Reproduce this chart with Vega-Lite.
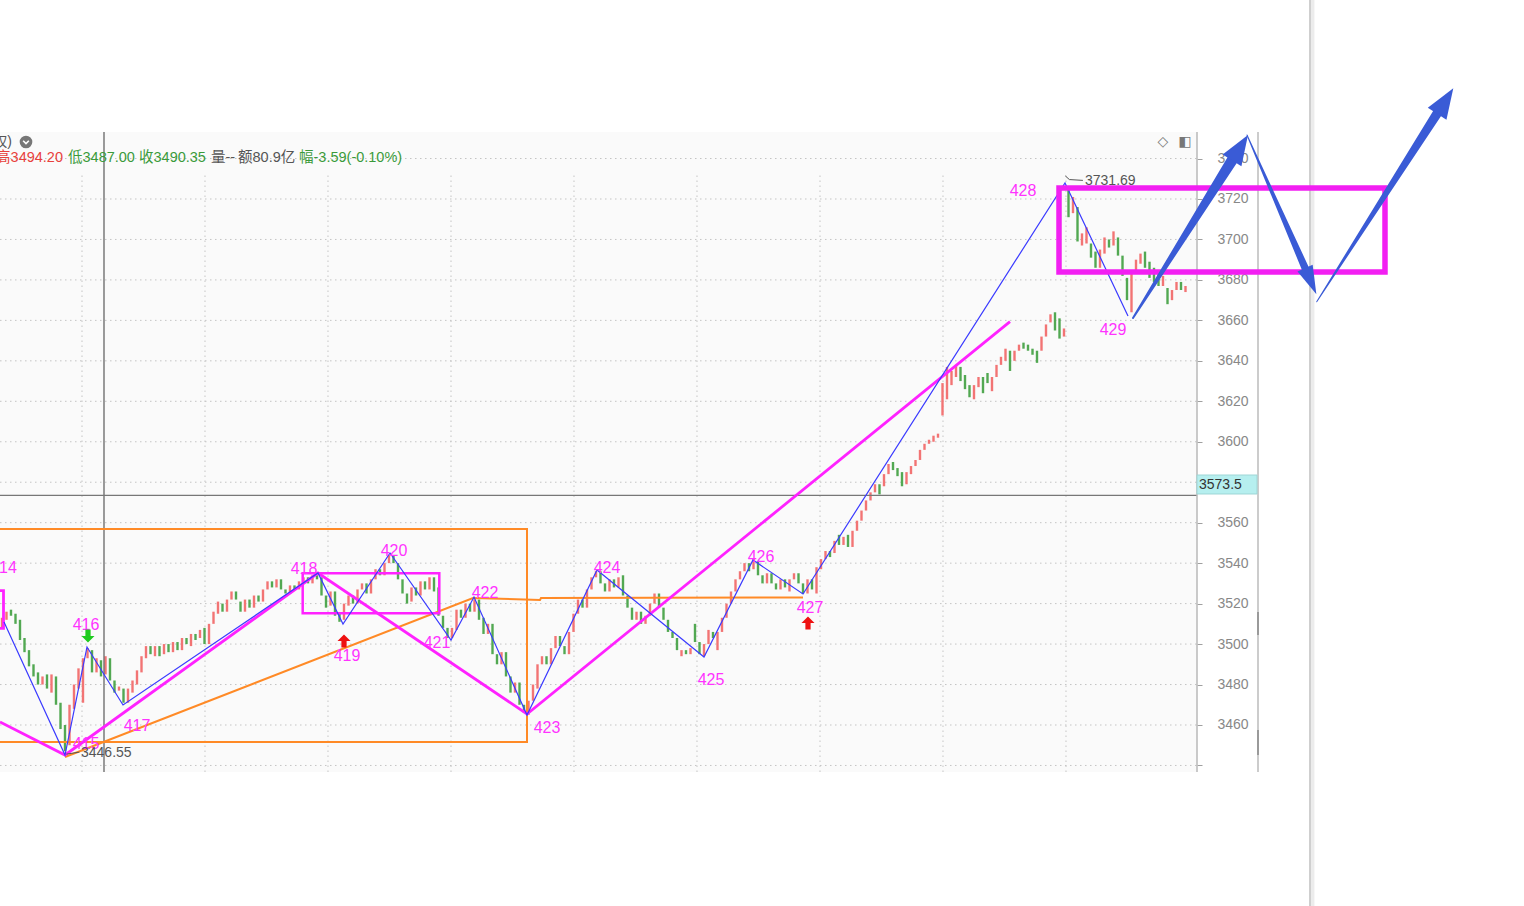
{
"$schema":"https://vega.github.io/schema/vega-lite/v6.json",
"width":1197,"height":906,"autosize":{"type":"none"},"padding":{"left":0,"top":0,"right":327,"bottom":0},"background":"#ffffff",
"config":{"view":{"stroke":null}},
"resolve":{"scale":{"size":"independent"}},
"datasets":{
"hgrid":[{"y":3440},{"y":3460},{"y":3480},{"y":3500},{"y":3520},{"y":3540},{"y":3560},{"y":3580},{"y":3600},{"y":3620},{"y":3640},{"y":3660},{"y":3680},{"y":3700},{"y":3720},{"y":3740}],
"vgrid":[{"x":17.778},{"x":45.111},{"x":72.444},{"x":99.778},{"x":127.111},{"x":154.444},{"x":181.778},{"x":209.111},{"x":236.444}],
"candles":[
{"i":0,"o":3508,"c":3513},{"i":1,"o":3512,"c":3516},{"i":2,"o":3517,"c":3514},{"i":3,"o":3515,"c":3510},{"i":4,"o":3512,"c":3502},{"i":5,"o":3503,"c":3496},{"i":6,"o":3497,"c":3489},{"i":7,"o":3490,"c":3484},{"i":8,"o":3486,"c":3480},{"i":9,"o":3480,"c":3484},
{"i":10,"o":3485,"c":3478},{"i":11,"o":3476,"c":3485},{"i":12,"o":3484,"c":3470},{"i":13,"o":3471,"c":3458},{"i":14,"o":3460,"c":3447},{"i":15,"o":3450,"c":3470},{"i":16,"o":3468,"c":3480},{"i":17,"o":3478,"c":3488},{"i":18,"o":3471,"c":3493},{"i":19,"o":3493,"c":3498},
{"i":20,"o":3497,"c":3486},{"i":21,"o":3486,"c":3493},{"i":22,"o":3492,"c":3484},{"i":23,"o":3485,"c":3494},{"i":24,"o":3493,"c":3482},{"i":25,"o":3482,"c":3476},{"i":26,"o":3477,"c":3479},{"i":27,"o":3478,"c":3471},{"i":28,"o":3471,"c":3478},{"i":29,"o":3476,"c":3482},
{"i":30,"o":3480,"c":3487},{"i":31,"o":3486,"c":3494},{"i":32,"o":3493,"c":3499},{"i":33,"o":3499,"c":3495},{"i":34,"o":3494,"c":3499},{"i":35,"o":3499,"c":3494},{"i":36,"o":3495,"c":3500},{"i":37,"o":3500,"c":3496},{"i":38,"o":3496,"c":3501},{"i":39,"o":3501,"c":3497},
{"i":40,"o":3497,"c":3503},{"i":41,"o":3503,"c":3500},{"i":42,"o":3499,"c":3505},{"i":43,"o":3505,"c":3502},{"i":44,"o":3503,"c":3507},{"i":45,"o":3508,"c":3500},{"i":46,"o":3500,"c":3510},{"i":47,"o":3510,"c":3516},{"i":48,"o":3515,"c":3521},{"i":49,"o":3520,"c":3516},
{"i":50,"o":3516,"c":3522},{"i":51,"o":3522,"c":3526},{"i":52,"o":3526,"c":3522},{"i":53,"o":3521,"c":3516},{"i":54,"o":3516,"c":3522},{"i":55,"o":3522,"c":3518},{"i":56,"o":3518,"c":3524},{"i":57,"o":3524,"c":3521},{"i":58,"o":3521,"c":3527},{"i":59,"o":3527,"c":3531},
{"i":60,"o":3531,"c":3528},{"i":61,"o":3528,"c":3532},{"i":62,"o":3532,"c":3527},{"i":63,"o":3527,"c":3525},{"i":64,"o":3525,"c":3529},{"i":65,"o":3529,"c":3527},{"i":66,"o":3527,"c":3531},{"i":67,"o":3530,"c":3533},{"i":68,"o":3533,"c":3530},{"i":69,"o":3530,"c":3534},
{"i":70,"o":3534,"c":3532},{"i":71,"o":3533,"c":3524},{"i":72,"o":3524,"c":3518},{"i":73,"o":3519,"c":3526},{"i":74,"o":3526,"c":3514},{"i":75,"o":3515,"c":3511},{"i":76,"o":3512,"c":3520},{"i":77,"o":3519,"c":3524},{"i":78,"o":3524,"c":3520},{"i":79,"o":3520,"c":3527},
{"i":80,"o":3527,"c":3530},{"i":81,"o":3530,"c":3525},{"i":82,"o":3525,"c":3532},{"i":83,"o":3532,"c":3537},{"i":84,"o":3537,"c":3534},{"i":85,"o":3534,"c":3540},{"i":86,"o":3540,"c":3544},{"i":87,"o":3544,"c":3540},{"i":88,"o":3540,"c":3532},{"i":89,"o":3532,"c":3525},
{"i":90,"o":3525,"c":3520},{"i":91,"o":3521,"c":3528},{"i":92,"o":3528,"c":3524},{"i":93,"o":3524,"c":3531},{"i":94,"o":3531,"c":3527},{"i":95,"o":3527,"c":3533},{"i":96,"o":3533,"c":3526},{"i":97,"o":3528,"c":3514},{"i":98,"o":3514,"c":3508},{"i":99,"o":3508,"c":3503},
{"i":100,"o":3503,"c":3508},{"i":101,"o":3507,"c":3517},{"i":102,"o":3517,"c":3513},{"i":103,"o":3513,"c":3520},{"i":104,"o":3520,"c":3516},{"i":105,"o":3516,"c":3522},{"i":106,"o":3522,"c":3512},{"i":107,"o":3513,"c":3505},{"i":108,"o":3505,"c":3510},{"i":109,"o":3510,"c":3495},
{"i":110,"o":3495,"c":3490},{"i":111,"o":3490,"c":3496},{"i":112,"o":3496,"c":3484},{"i":113,"o":3484,"c":3476},{"i":114,"o":3476,"c":3481},{"i":115,"o":3481,"c":3470},{"i":116,"o":3470,"c":3466},{"i":117,"o":3465,"c":3472},{"i":118,"o":3472,"c":3480},{"i":119,"o":3478,"c":3490},
{"i":120,"o":3490,"c":3494},{"i":121,"o":3494,"c":3490},{"i":122,"o":3490,"c":3498},{"i":123,"o":3498,"c":3504},{"i":124,"o":3504,"c":3499},{"i":125,"o":3499,"c":3495},{"i":126,"o":3495,"c":3506},{"i":127,"o":3506,"c":3515},{"i":128,"o":3515,"c":3522},{"i":129,"o":3522,"c":3518},
{"i":130,"o":3518,"c":3527},{"i":131,"o":3527,"c":3533},{"i":132,"o":3533,"c":3536},{"i":133,"o":3536,"c":3530},{"i":134,"o":3530,"c":3526},{"i":135,"o":3526,"c":3532},{"i":136,"o":3532,"c":3528},{"i":137,"o":3528,"c":3533},{"i":138,"o":3534,"c":3524},{"i":139,"o":3524,"c":3518},
{"i":140,"o":3518,"c":3512},{"i":141,"o":3512,"c":3516},{"i":142,"o":3516,"c":3510},{"i":143,"o":3510,"c":3514},{"i":144,"o":3514,"c":3520},{"i":145,"o":3520,"c":3525},{"i":146,"o":3525,"c":3518},{"i":147,"o":3518,"c":3512},{"i":148,"o":3512,"c":3506},{"i":149,"o":3506,"c":3503},
{"i":150,"o":3503,"c":3497},{"i":151,"o":3494,"c":3497},{"i":152,"o":3497,"c":3495},{"i":153,"o":3495,"c":3498},{"i":154,"o":3510,"c":3501},{"i":155,"o":3501,"c":3495},{"i":156,"o":3494,"c":3500},{"i":157,"o":3500,"c":3507},{"i":158,"o":3506,"c":3503},{"i":159,"o":3497,"c":3506},
{"i":160,"o":3506,"c":3513},{"i":161,"o":3513,"c":3520},{"i":162,"o":3520,"c":3526},{"i":163,"o":3526,"c":3532},{"i":164,"o":3532,"c":3536},{"i":165,"o":3536,"c":3540},{"i":166,"o":3540,"c":3536},{"i":167,"o":3537,"c":3542},{"i":168,"o":3541,"c":3534},{"i":169,"o":3534,"c":3530},
{"i":170,"o":3530,"c":3535},{"i":171,"o":3535,"c":3530},{"i":172,"o":3530,"c":3527},{"i":173,"o":3527,"c":3532},{"i":174,"o":3532,"c":3528},{"i":175,"o":3526,"c":3532},{"i":176,"o":3532,"c":3535},{"i":177,"o":3535,"c":3530},{"i":178,"o":3530,"c":3525},{"i":179,"o":3525,"c":3532},
{"i":180,"o":3532,"c":3527},{"i":181,"o":3525,"c":3538},{"i":182,"o":3537,"c":3542},{"i":183,"o":3542,"c":3546},{"i":184,"o":3546,"c":3543},{"i":185,"o":3545,"c":3551},{"i":186,"o":3554,"c":3549},{"i":187,"o":3549,"c":3553},{"i":188,"o":3554,"c":3548},{"i":189,"o":3548,"c":3556},
{"i":190,"o":3556,"c":3561},{"i":191,"o":3561,"c":3566},{"i":192,"o":3566,"c":3571},{"i":193,"o":3571,"c":3575},{"i":194,"o":3575,"c":3579},{"i":195,"o":3579,"c":3574},{"i":196,"o":3578,"c":3584},{"i":197,"o":3584,"c":3589},{"i":198,"o":3590,"c":3586},{"i":199,"o":3587,"c":3583},
{"i":200,"o":3585,"c":3578},{"i":201,"o":3579,"c":3585},{"i":202,"o":3584,"c":3588},{"i":203,"o":3588,"c":3591},{"i":204,"o":3591,"c":3596},{"i":205,"o":3596,"c":3599},{"i":206,"o":3599,"c":3601},{"i":207,"o":3600,"c":3603},{"i":208,"o":3602,"c":3604},{"i":209,"o":3613,"c":3629},
{"i":210,"o":3621,"c":3637},{"i":211,"o":3628,"c":3635},{"i":212,"o":3632,"c":3638},{"i":213,"o":3637,"c":3630},{"i":214,"o":3633,"c":3626},{"i":215,"o":3628,"c":3622},{"i":216,"o":3621,"c":3628},{"i":217,"o":3627,"c":3632},{"i":218,"o":3632,"c":3624},{"i":219,"o":3634,"c":3629},
{"i":220,"o":3625,"c":3632},{"i":221,"o":3632,"c":3638},{"i":222,"o":3638,"c":3642},{"i":223,"o":3640,"c":3646},{"i":224,"o":3645,"c":3635},{"i":225,"o":3640,"c":3645},{"i":226,"o":3645,"c":3648},{"i":227,"o":3649,"c":3646},{"i":228,"o":3648,"c":3645},{"i":229,"o":3646,"c":3643},
{"i":230,"o":3645,"c":3639},{"i":231,"o":3645,"c":3652},{"i":232,"o":3652,"c":3658},{"i":233,"o":3659,"c":3663},{"i":234,"o":3664,"c":3655},{"i":235,"o":3661,"c":3651},{"i":236,"o":3652,"c":3656},{"i":237,"o":3725,"c":3711},{"i":238,"o":3713,"c":3721},{"i":239,"o":3716,"c":3699},
{"i":240,"o":3697,"c":3703},{"i":241,"o":3698,"c":3706},{"i":242,"o":3698,"c":3691},{"i":243,"o":3694,"c":3686},{"i":244,"o":3686,"c":3695},{"i":245,"o":3693,"c":3701},{"i":246,"o":3700,"c":3696},{"i":247,"o":3697,"c":3704},{"i":248,"o":3701,"c":3692},{"i":249,"o":3692,"c":3682},
{"i":250,"o":3681,"c":3670},{"i":251,"o":3664,"c":3683},{"i":252,"o":3683,"c":3690},{"i":253,"o":3688,"c":3693},{"i":254,"o":3694,"c":3686},{"i":255,"o":3689,"c":3681},{"i":256,"o":3686,"c":3679},{"i":257,"o":3683,"c":3677},{"i":258,"o":3677,"c":3682},{"i":259,"o":3676,"c":3668},
{"i":260,"o":3670,"c":3675},{"i":261,"o":3675,"c":3679},{"i":262,"o":3679,"c":3675},{"i":263,"o":3674,"c":3677}
],
"zig":[{"n":0,"x":0.444,"y":3510.9},{"n":1,"x":14,"y":3445.17},{"n":2,"x":18.889,"y":3498.55},{"n":3,"x":26.889,"y":3469.89},{"n":4,"x":70.222,"y":3535.13},{"n":5,"x":75.778,"y":3509.92},{"n":6,"x":86.222,"y":3545.02},{"n":7,"x":99.778,"y":3502.01},{"n":8,"x":104.889,"y":3523.27},{"n":9,"x":116.667,"y":3464.94},{"n":10,"x":132.222,"y":3536.62},{"n":11,"x":156,"y":3493.61},{"n":12,"x":166.889,"y":3541.56},{"n":13,"x":178,"y":3524.75},{"n":14,"x":236.222,"y":3727.91},{"n":15,"x":250.222,"y":3662.17}],
"mag":[{"g":"a","n":0,"x":-0.4444,"y":3461.48},{"g":"a","n":1,"x":14,"y":3445.17},{"g":"a","n":2,"x":70.222,"y":3535.13},{"g":"a","n":3,"x":116.667,"y":3465.44},{"g":"a","n":4,"x":224,"y":3659.35},{"g":"b","n":0,"x":-0.4444,"y":3526.38},{"g":"b","n":1,"x":0.333,"y":3526.38},{"g":"b","n":2,"x":0.333,"y":3507.8},{"g":"b","n":3,"x":-0.4444,"y":3507.8}],
"magbox":[{"x":66.822,"x2":97.178,"y":3534.98,"y2":3515.21}],
"bigbox":[{"x":234.889,"x2":307.333,"y":3725.44,"y2":3683.91}],
"orange":[{"g":"a","n":0,"x":-0.4444,"y":3556.88},{"g":"a","n":1,"x":116.667,"y":3556.88},{"g":"a","n":2,"x":116.667,"y":3451.6},{"g":"a","n":3,"x":-0.4444,"y":3451.6},{"g":"b","n":0,"x":14,"y":3444.18},{"g":"b","n":1,"x":104.667,"y":3522.78},{"g":"b","n":2,"x":119.556,"y":3521.79},{"g":"b","n":3,"x":119.778,"y":3522.78},{"g":"b","n":4,"x":178,"y":3523.02}],
"labels":[{"x":0.333,"y":3537.6,"t":"414"},{"x":18.667,"y":3450.61,"t":"415"},{"x":18.667,"y":3509.43,"t":"416"},{"x":30,"y":3459.51,"t":"417"},{"x":67.111,"y":3537.11,"t":"418"},{"x":76.667,"y":3494.11,"t":"419"},{"x":87.111,"y":3546.01,"t":"420"},{"x":96.667,"y":3500.53,"t":"421"},{"x":107.333,"y":3525.25,"t":"422"},{"x":121.111,"y":3458.52,"t":"423"},{"x":134.444,"y":3537.6,"t":"424"},{"x":157.556,"y":3482.24,"t":"425"},{"x":168.667,"y":3543.04,"t":"426"},{"x":179.556,"y":3517.83,"t":"427"},{"x":226.889,"y":3723.95,"t":"428"},{"x":246.889,"y":3655.24,"t":"429"}],
"up":[{"x":76,"y":3501.52},{"x":179.111,"y":3510.42}],
"down":[{"x":19.111,"y":3503.99}],
"notes":[{"x":17.556,"y":3446.16,"t":"3446.55"},{"x":240.667,"y":3728.9,"t":"3731.69"}],
"noteLines":[{"g":"a","n":0,"x":14.3,"y":3445.6},{"g":"a","n":1,"x":17.2,"y":3446.6},{"g":"b","n":0,"x":236.3,"y":3731.4},{"g":"b","n":1,"x":237.2,"y":3729.6},{"g":"b","n":2,"x":240.2,"y":3729.2}],
"hdr0":[{"x":2.222,"y":3748.18,"t":"权)"}],
"hdr1":[{"x":13.556,"y":3740.26,"t":"高3494.20","k":"rise"}],
"hdr2":[{"x":14.667,"y":3740.26,"t":"低3487.00","k":"fall"},{"x":30.444,"y":3740.26,"t":"收3490.35","k":"fall"},{"x":46.444,"y":3740.26,"t":"量--","k":"flat"},{"x":52.444,"y":3740.26,"t":"额80.9亿","k":"flat"},{"x":66,"y":3740.26,"t":"幅-3.59(-0.10%)","k":"fall"}],
"icons":[{"x":257.999,"y":3748.18,"t":"◇"},{"x":262.889,"y":3748.18,"t":"◧"}],
"dot":[{"x":5.333,"y":3748.18}],
"shaft1":[{"k":0,"x":251.333,"y":3661.18},{"k":1,"x":273.58,"y":3739.92}],
"shaft2":[{"k":0,"x":276.667,"y":3751.64},{"k":1,"x":289.87,"y":3684.4}],
"shaft3":[{"k":0,"x":292.16,"y":3669.2},{"k":1,"x":319.16,"y":3763.1}],
"head1":[{"x":275.02,"y":3745.0}],
"head2":[{"x":290.76,"y":3679.7}],
"head3":[{"x":320.62,"y":3768.1}],
"pricebox":[{"x":265.556,"x2":278.889,"y":3574.18,"y2":3583.57}],
"pricetxt":[{"x":266.0,"y":3578.63,"t":"3573.5"}]
},
"layer":[
{"data":{"name":"hgrid"},"mark":{"type":"rule","color":"#c4c4c4","strokeWidth":1,"strokeDash":[1.5,3.5]},"encoding":{"x":{"datum":-0.4444,"type":"quantitative","scale":{"domain":[-0.4444,265.5556],"nice":false,"zero":false},"axis":null},"x2":{"datum":265.556},"y":{"field":"y","type":"quantitative","scale":{"domain":[3370.53,3818.36],"nice":false,"zero":false},"axis":{"orient":"right","values":[3440,3450,3460,3470,3480,3490,3500,3510,3520,3530,3540,3550,3560,3570,3580,3590,3600,3610,3620,3630,3640,3650,3660,3670,3680,3690,3700,3710,3720,3730,3740,3750],"labelExpr":"(datum.value % 20 === 0 && datum.value >= 3460 && datum.value !== 3580) ? datum.label : ''","format":"d","domain":false,"grid":false,"ticks":true,"tickColor":"#a0a0a0","tickSize":5,"labelColor":"#888888","labelFont":"Liberation Sans","labelFontSize":14,"labelPadding":15,"labelOverlap":false,"labelBound":false,"labelFlush":false,"title":null}}}},
{"data":{"values":[{}]},"mark":{"type":"rect","fill":"#fafafa"},"encoding":{"x":{"datum":-0.4444,"type":"quantitative","scale":{"domain":[-0.4444,265.5556],"nice":false,"zero":false},"axis":null},"x2":{"datum":265.556},"y":{"datum":3436.77,"type":"quantitative","scale":{"domain":[3370.53,3818.36],"nice":false,"zero":false}},"y2":{"datum":3753.11}}},
{"data":{"name":"hgrid"},"mark":{"type":"rule","color":"#c4c4c4","strokeWidth":1,"strokeDash":[1.5,3.5]},"encoding":{"x":{"datum":-0.4444,"type":"quantitative","scale":{"domain":[-0.4444,265.5556],"nice":false,"zero":false},"axis":null},"x2":{"datum":265.556},"y":{"field":"y","type":"quantitative","scale":{"domain":[3370.53,3818.36],"nice":false,"zero":false}}}},
{"data":{"name":"vgrid"},"mark":{"type":"rule","color":"#c4c4c4","strokeWidth":1,"strokeDash":[1.5,3.5]},"encoding":{"x":{"field":"x","type":"quantitative","scale":{"domain":[-0.4444,265.5556],"nice":false,"zero":false},"axis":null},"y":{"datum":3436.77,"type":"quantitative","scale":{"domain":[3370.53,3818.36],"nice":false,"zero":false}},"y2":{"datum":3733.34}}},
{"data":{"name":"candles"},"mark":{"type":"rule","strokeWidth":2.4},"encoding":{"x":{"field":"i","type":"quantitative","scale":{"domain":[-0.4444,265.5556],"nice":false,"zero":false},"axis":null},"y":{"field":"o","type":"quantitative","scale":{"domain":[3370.53,3818.36],"nice":false,"zero":false}},"y2":{"field":"c"},"color":{"condition":{"test":"datum.c >= datum.o","value":"#f27474"},"value":"#52a852"}}},
{"data":{"values":[{}]},"mark":{"type":"rule","color":"#666666","strokeWidth":1.3},"encoding":{"x":{"datum":22.667,"type":"quantitative","scale":{"domain":[-0.4444,265.5556],"nice":false,"zero":false},"axis":null},"y":{"datum":3436.77,"type":"quantitative","scale":{"domain":[3370.53,3818.36],"nice":false,"zero":false}},"y2":{"datum":3753.11}}},
{"data":{"values":[{}]},"mark":{"type":"rule","color":"#777777","strokeWidth":1.3},"encoding":{"x":{"datum":-0.4444,"type":"quantitative","scale":{"domain":[-0.4444,265.5556],"nice":false,"zero":false},"axis":null},"x2":{"datum":265.556},"y":{"datum":3573.5,"type":"quantitative","scale":{"domain":[3370.53,3818.36],"nice":false,"zero":false}}}},
{"data":{"name":"orange"},"mark":{"type":"line","color":"#ff8a26","strokeWidth":2},"encoding":{"x":{"field":"x","type":"quantitative","scale":{"domain":[-0.4444,265.5556],"nice":false,"zero":false},"axis":null},"y":{"field":"y","type":"quantitative","scale":{"domain":[3370.53,3818.36],"nice":false,"zero":false}},"detail":{"field":"g"},"order":{"field":"n"}}},
{"data":{"name":"mag"},"mark":{"type":"line","color":"#ff22ff","strokeWidth":2.8},"encoding":{"x":{"field":"x","type":"quantitative","scale":{"domain":[-0.4444,265.5556],"nice":false,"zero":false},"axis":null},"y":{"field":"y","type":"quantitative","scale":{"domain":[3370.53,3818.36],"nice":false,"zero":false}},"detail":{"field":"g"},"order":{"field":"n"}}},
{"data":{"name":"magbox"},"mark":{"type":"rect","fill":null,"fillOpacity":0,"stroke":"#ff22ff","strokeWidth":2.5},"encoding":{"x":{"field":"x","type":"quantitative","scale":{"domain":[-0.4444,265.5556],"nice":false,"zero":false},"axis":null},"x2":{"field":"x2"},"y":{"field":"y","type":"quantitative","scale":{"domain":[3370.53,3818.36],"nice":false,"zero":false}},"y2":{"field":"y2"}}},
{"data":{"name":"zig"},"mark":{"type":"line","color":"#3a3aff","strokeWidth":1.2},"encoding":{"x":{"field":"x","type":"quantitative","scale":{"domain":[-0.4444,265.5556],"nice":false,"zero":false},"axis":null},"y":{"field":"y","type":"quantitative","scale":{"domain":[3370.53,3818.36],"nice":false,"zero":false}},"order":{"field":"n"}}},
{"data":{"name":"labels"},"mark":{"type":"text","color":"#ff33ff","font":"Liberation Sans","fontSize":16,"align":"center","baseline":"middle"},"encoding":{"x":{"field":"x","type":"quantitative","scale":{"domain":[-0.4444,265.5556],"nice":false,"zero":false},"axis":null},"y":{"field":"y","type":"quantitative","scale":{"domain":[3370.53,3818.36],"nice":false,"zero":false}},"text":{"field":"t","type":"nominal"}}},
{"data":{"name":"noteLines"},"mark":{"type":"line","color":"#555555","strokeWidth":1},"encoding":{"x":{"field":"x","type":"quantitative","scale":{"domain":[-0.4444,265.5556],"nice":false,"zero":false},"axis":null},"y":{"field":"y","type":"quantitative","scale":{"domain":[3370.53,3818.36],"nice":false,"zero":false}},"detail":{"field":"g"},"order":{"field":"n"}}},
{"data":{"name":"notes"},"mark":{"type":"text","color":"#555555","font":"Liberation Sans","fontSize":14,"align":"left","baseline":"middle"},"encoding":{"x":{"field":"x","type":"quantitative","scale":{"domain":[-0.4444,265.5556],"nice":false,"zero":false},"axis":null},"y":{"field":"y","type":"quantitative","scale":{"domain":[3370.53,3818.36],"nice":false,"zero":false}},"text":{"field":"t","type":"nominal"}}},
{"data":{"name":"down"},"mark":{"type":"point","shape":"M-0.4,-1L0.4,-1L0.4,0L1,0L0,1L-1,0L-0.4,0Z","filled":true,"opacity":1,"color":"#1ecb1e","size":170,"strokeWidth":0},"encoding":{"x":{"field":"x","type":"quantitative","scale":{"domain":[-0.4444,265.5556],"nice":false,"zero":false},"axis":null},"y":{"field":"y","type":"quantitative","scale":{"domain":[3370.53,3818.36],"nice":false,"zero":false}}}},
{"data":{"name":"up"},"mark":{"type":"point","shape":"M-0.4,1L0.4,1L0.4,0L1,0L0,-1L-1,0L-0.4,0Z","filled":true,"opacity":1,"color":"#ee1111","size":170,"strokeWidth":0},"encoding":{"x":{"field":"x","type":"quantitative","scale":{"domain":[-0.4444,265.5556],"nice":false,"zero":false},"axis":null},"y":{"field":"y","type":"quantitative","scale":{"domain":[3370.53,3818.36],"nice":false,"zero":false}}}},
{"data":{"values":[{}]},"mark":{"type":"rule","color":"#b8b8b8","strokeWidth":1.5},"encoding":{"x":{"datum":265.556,"type":"quantitative","scale":{"domain":[-0.4444,265.5556],"nice":false,"zero":false},"axis":null},"y":{"datum":3436.77,"type":"quantitative","scale":{"domain":[3370.53,3818.36],"nice":false,"zero":false}},"y2":{"datum":3753.11}}},
{"data":{"values":[{}]},"mark":{"type":"rule","color":"#cccccc","strokeWidth":2},"encoding":{"x":{"datum":279.111,"type":"quantitative","scale":{"domain":[-0.4444,265.5556],"nice":false,"zero":false},"axis":null},"y":{"datum":3436.77,"type":"quantitative","scale":{"domain":[3370.53,3818.36],"nice":false,"zero":false}},"y2":{"datum":3753.11}}},
{"data":{"values":[{"a":3504.49,"b":3515.86},{"a":3445.17,"b":3457.53}]},"mark":{"type":"rule","color":"#9a9a9a","strokeWidth":2},"encoding":{"x":{"datum":279.111,"type":"quantitative","scale":{"domain":[-0.4444,265.5556],"nice":false,"zero":false},"axis":null},"y":{"field":"a","type":"quantitative","scale":{"domain":[3370.53,3818.36],"nice":false,"zero":false}},"y2":{"field":"b"}}},
{"data":{"values":[{}]},"mark":{"type":"rule","color":"#ececec","strokeWidth":4},"encoding":{"x":{"datum":291.2,"type":"quantitative","scale":{"domain":[-0.4444,265.5556],"nice":false,"zero":false},"axis":null},"y":{"datum":3370.53,"type":"quantitative","scale":{"domain":[3370.53,3818.36],"nice":false,"zero":false}},"y2":{"datum":3818.36}}},
{"data":{"values":[{}]},"mark":{"type":"rule","color":"#cfcfcf","strokeWidth":2},"encoding":{"x":{"datum":290.667,"type":"quantitative","scale":{"domain":[-0.4444,265.5556],"nice":false,"zero":false},"axis":null},"y":{"datum":3370.53,"type":"quantitative","scale":{"domain":[3370.53,3818.36],"nice":false,"zero":false}},"y2":{"datum":3818.36}}},
{"data":{"name":"pricebox"},"mark":{"type":"rect","fill":"#b6efef","stroke":"#9fd6d6","strokeWidth":1},"encoding":{"x":{"field":"x","type":"quantitative","scale":{"domain":[-0.4444,265.5556],"nice":false,"zero":false},"axis":null},"x2":{"field":"x2"},"y":{"field":"y","type":"quantitative","scale":{"domain":[3370.53,3818.36],"nice":false,"zero":false}},"y2":{"field":"y2"}}},
{"data":{"name":"pricetxt"},"mark":{"type":"text","color":"#333333","font":"Liberation Sans","fontSize":14,"align":"left","baseline":"middle"},"encoding":{"x":{"field":"x","type":"quantitative","scale":{"domain":[-0.4444,265.5556],"nice":false,"zero":false},"axis":null},"y":{"field":"y","type":"quantitative","scale":{"domain":[3370.53,3818.36],"nice":false,"zero":false}},"text":{"field":"t","type":"nominal"}}},
{"data":{"name":"hdr0"},"mark":{"type":"text","color":"#555555","font":"Liberation Sans, Noto Sans CJK SC","fontSize":14,"align":"right","baseline":"middle"},"encoding":{"x":{"field":"x","type":"quantitative","scale":{"domain":[-0.4444,265.5556],"nice":false,"zero":false},"axis":null},"y":{"field":"y","type":"quantitative","scale":{"domain":[3370.53,3818.36],"nice":false,"zero":false}},"text":{"field":"t","type":"nominal"}}},
{"data":{"name":"dot"},"mark":{"type":"point","shape":"circle","filled":true,"opacity":1,"color":"#777777","size":160,"strokeWidth":0},"encoding":{"x":{"field":"x","type":"quantitative","scale":{"domain":[-0.4444,265.5556],"nice":false,"zero":false},"axis":null},"y":{"field":"y","type":"quantitative","scale":{"domain":[3370.53,3818.36],"nice":false,"zero":false}}}},
{"data":{"name":"dot"},"mark":{"type":"point","shape":"M-0.45,-0.2L0,0.25L0.45,-0.2","filled":false,"opacity":1,"color":"#ffffff","size":160,"strokeWidth":1.6},"encoding":{"x":{"field":"x","type":"quantitative","scale":{"domain":[-0.4444,265.5556],"nice":false,"zero":false},"axis":null},"y":{"field":"y","type":"quantitative","scale":{"domain":[3370.53,3818.36],"nice":false,"zero":false}}}},
{"data":{"name":"hdr1"},"mark":{"type":"text","font":"Liberation Sans, Noto Sans CJK SC","fontSize":14.5,"align":"right","baseline":"middle"},"encoding":{"x":{"field":"x","type":"quantitative","scale":{"domain":[-0.4444,265.5556],"nice":false,"zero":false},"axis":null},"y":{"field":"y","type":"quantitative","scale":{"domain":[3370.53,3818.36],"nice":false,"zero":false}},"text":{"field":"t","type":"nominal"},"color":{"field":"k","type":"nominal","scale":{"domain":["rise","fall","flat"],"range":["#e8413c","#3a9a3a","#555555"]},"legend":null}}},
{"data":{"name":"hdr2"},"mark":{"type":"text","font":"Liberation Sans, Noto Sans CJK SC","fontSize":14.5,"align":"left","baseline":"middle"},"encoding":{"x":{"field":"x","type":"quantitative","scale":{"domain":[-0.4444,265.5556],"nice":false,"zero":false},"axis":null},"y":{"field":"y","type":"quantitative","scale":{"domain":[3370.53,3818.36],"nice":false,"zero":false}},"text":{"field":"t","type":"nominal"},"color":{"field":"k","type":"nominal","scale":{"domain":["rise","fall","flat"],"range":["#e8413c","#3a9a3a","#555555"]},"legend":null}}},
{"data":{"name":"icons"},"mark":{"type":"text","color":"#777777","font":"DejaVu Sans","fontSize":14,"align":"center","baseline":"middle"},"encoding":{"x":{"field":"x","type":"quantitative","scale":{"domain":[-0.4444,265.5556],"nice":false,"zero":false},"axis":null},"y":{"field":"y","type":"quantitative","scale":{"domain":[3370.53,3818.36],"nice":false,"zero":false}},"text":{"field":"t","type":"nominal"}}},
{"data":{"name":"bigbox"},"mark":{"type":"rect","fill":null,"fillOpacity":0,"stroke":"#f21ff2","strokeWidth":5.5},"encoding":{"x":{"field":"x","type":"quantitative","scale":{"domain":[-0.4444,265.5556],"nice":false,"zero":false},"axis":null},"x2":{"field":"x2"},"y":{"field":"y","type":"quantitative","scale":{"domain":[3370.53,3818.36],"nice":false,"zero":false}},"y2":{"field":"y2"}}},
{"data":{"name":"shaft1"},"mark":{"type":"trail","color":"#3a5bd6"},"encoding":{"x":{"field":"x","type":"quantitative","scale":{"domain":[-0.4444,265.5556],"nice":false,"zero":false},"axis":null},"y":{"field":"y","type":"quantitative","scale":{"domain":[3370.53,3818.36],"nice":false,"zero":false}},"order":{"field":"k"},"size":{"field":"k","type":"quantitative","scale":{"domain":[0,1],"range":[2,11]},"legend":null}}},
{"data":{"name":"shaft2"},"mark":{"type":"trail","color":"#3a5bd6"},"encoding":{"x":{"field":"x","type":"quantitative","scale":{"domain":[-0.4444,265.5556],"nice":false,"zero":false},"axis":null},"y":{"field":"y","type":"quantitative","scale":{"domain":[3370.53,3818.36],"nice":false,"zero":false}},"order":{"field":"k"},"size":{"field":"k","type":"quantitative","scale":{"domain":[0,1],"range":[1,7.5]},"legend":null}}},
{"data":{"name":"shaft3"},"mark":{"type":"trail","color":"#3a5bd6"},"encoding":{"x":{"field":"x","type":"quantitative","scale":{"domain":[-0.4444,265.5556],"nice":false,"zero":false},"axis":null},"y":{"field":"y","type":"quantitative","scale":{"domain":[3370.53,3818.36],"nice":false,"zero":false}},"order":{"field":"k"},"size":{"field":"k","type":"quantitative","scale":{"domain":[0,1],"range":[1,9.5]},"legend":null}}},
{"data":{"name":"head1"},"mark":{"type":"point","shape":"M0,-1L0.7,0.9L-0.7,0.9Z","filled":true,"opacity":1,"color":"#3a5bd6","size":1000,"angle":32.1,"strokeWidth":0},"encoding":{"x":{"field":"x","type":"quantitative","scale":{"domain":[-0.4444,265.5556],"nice":false,"zero":false},"axis":null},"y":{"field":"y","type":"quantitative","scale":{"domain":[3370.53,3818.36],"nice":false,"zero":false}}}},
{"data":{"name":"head2"},"mark":{"type":"point","shape":"M0,-1L0.55,0.9L-0.55,0.9Z","filled":true,"opacity":1,"color":"#3a5bd6","size":900,"angle":156.6,"strokeWidth":0},"encoding":{"x":{"field":"x","type":"quantitative","scale":{"domain":[-0.4444,265.5556],"nice":false,"zero":false},"axis":null},"y":{"field":"y","type":"quantitative","scale":{"domain":[3370.53,3818.36],"nice":false,"zero":false}}}},
{"data":{"name":"head3"},"mark":{"type":"point","shape":"M0,-1L0.7,0.9L-0.7,0.9Z","filled":true,"opacity":1,"color":"#3a5bd6","size":1000,"angle":32.6,"strokeWidth":0},"encoding":{"x":{"field":"x","type":"quantitative","scale":{"domain":[-0.4444,265.5556],"nice":false,"zero":false},"axis":null},"y":{"field":"y","type":"quantitative","scale":{"domain":[3370.53,3818.36],"nice":false,"zero":false}}}}
]
}
